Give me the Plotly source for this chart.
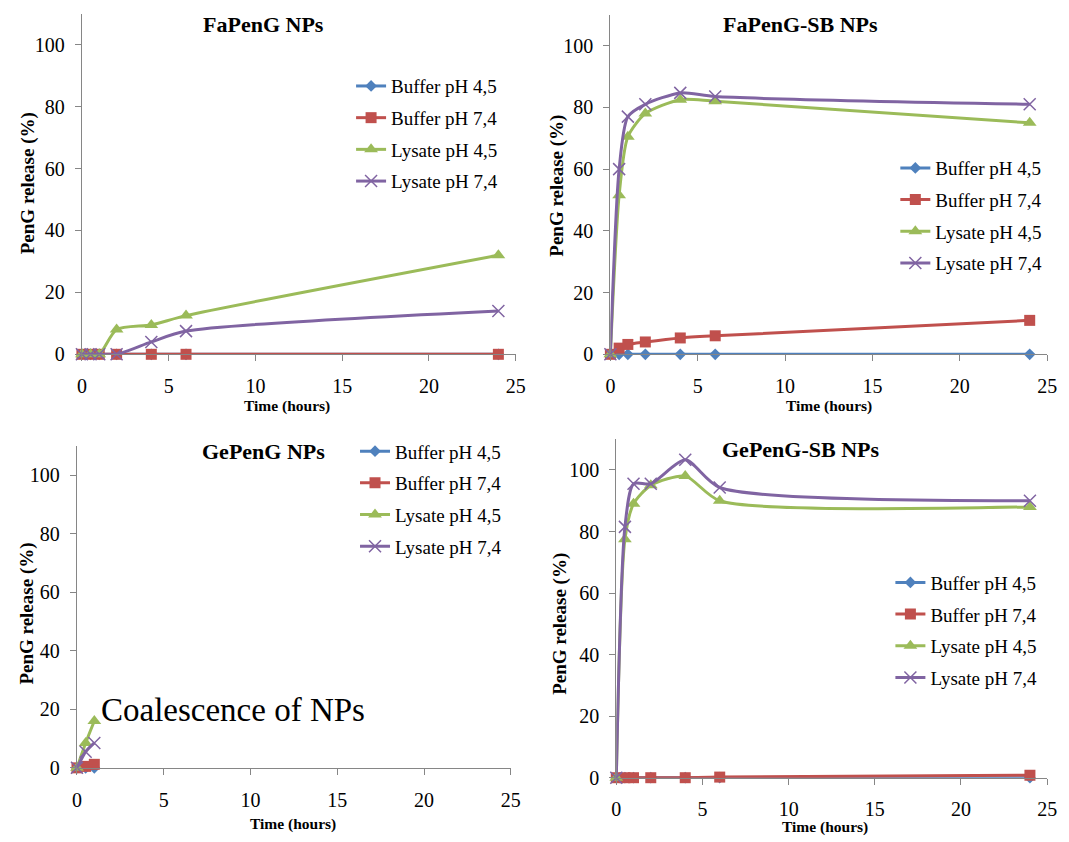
import plotly.graph_objects as go

# ---------------- data ----------------
t_full = [0, 0.5, 1, 2, 4, 6, 24]
t_ge = [0, 0.5, 1]

series_names = ["Buffer pH 4,5", "Buffer pH 7,4", "Lysate pH 4,5", "Lysate pH 7,4"]

fa_buf45 = [0, 0, 0, 0, 0, 0, 0]
fa_buf74 = [0, 0, 0, 0, 0, 0, 0]
fa_lys45 = [0, 0, 0, 8, 9.5, 12.5, 32]
fa_lys74 = [0, 0, 0, 0, 4, 7.5, 14]

fasb_buf45 = [0, 0, 0, 0, 0, 0, 0]
fasb_buf74 = [0, 2, 3.2, 4, 5.3, 6, 11]
fasb_lys45 = [0, 51.5, 70.5, 78, 82.5, 82, 75]
fasb_lys74 = [0, 60, 77, 81, 84.7, 83.5, 81]

ge_buf45 = [0, 0, 0]
ge_buf74 = [0, 0.5, 1.2]
ge_lys45 = [0, 8.5, 16]
ge_lys74 = [0, 5.5, 8.5]

gesb_buf45 = [0, 0, 0, 0, 0, 0, 0]
gesb_buf74 = [0, 0, 0, 0, 0, 0.2, 0.8]
gesb_lys45 = [0, 77.5, 89, 95, 98, 90, 88]
gesb_lys74 = [0, 81.5, 95.5, 95.5, 103.3, 94.3, 90]

panel_titles = ["FaPenG NPs", "FaPenG-SB NPs", "GePenG NPs", "GePenG-SB NPs"]
x_title = "Time (hours)"
y_title = "PenG release (%)"
note_text = "Coalescence of NPs"
x_ticks = [0, 5, 10, 15, 20, 25]
y_ticks = [0, 20, 40, 60, 80, 100]

# ---------------- styling ----------------
W, H = 1069, 842
FONT = "Liberation Serif"
colors = ["#4F81BD", "#C0504D", "#9BBB59", "#8064A2"]
symbols = ["diamond", "square", "triangle-up", "x-thin"]
msizes = [9, 11, 12, 12]

def fx(px):
    return px / W

def fy(py):
    return 1 - py / H

# plot areas in pixels: (left, right, top, bottom)
areas = [(78, 518, 14, 359), (614, 1057, 15, 359), (73, 513, 452, 778), (620, 1057, 445, 788)]
legend_pos = [(351, 68), (903, 151), (355, 438), (898, 571)]
title_pos = [(262, 25), (807, 25), (262, 457), (807, 455)]
ytitle_pos = [(23, 186), (559, 188), (22, 622), (563, 632)]
xtitle_pos = [(286, 411), (836, 411), (292, 835), (832, 838)]
x_standoff = [8, 8, 8, 7]

panels = [
    (t_full, [fa_buf45, fa_buf74, fa_lys45, fa_lys74]),
    (t_full, [fasb_buf45, fasb_buf74, fasb_lys45, fasb_lys74]),
    (t_ge, [ge_buf45, ge_buf74, ge_lys45, ge_lys74]),
    (t_full, [gesb_buf45, gesb_buf74, gesb_lys45, gesb_lys74]),
]

fig = go.Figure()
for p, (tt, sers) in enumerate(panels):
    ax = "" if p == 0 else str(p + 1)
    leg = "legend" if p == 0 else "legend" + str(p + 1)
    for k, (name, vals) in enumerate(zip(series_names, sers)):
        marker = dict(color=colors[k], size=msizes[k], symbol=symbols[k])
        if symbols[k] == "x-thin":
            marker["line"] = dict(color=colors[k], width=1.5)
        fig.add_trace(go.Scatter(
            x=tt, y=vals, name=name, mode="lines+markers",
            line=dict(color=colors[k], width=3, shape="spline", smoothing=0.7),
            marker=marker, xaxis="x" + ax, yaxis="y" + ax,
            legend=leg, legendgroup=f"p{p}s{k}", cliponaxis=False,
        ))

axis_common = dict(showline=True, linecolor="#868686", linewidth=1.3, ticks="outside",
                   ticklen=6, tickcolor="#868686", tickwidth=1.3, showgrid=False,
                   zeroline=False, tickfont=dict(family=FONT, size=20, color="black"))

layout = dict(width=W, height=H, margin=dict(l=0, r=0, t=0, b=0),
              paper_bgcolor="white", plot_bgcolor="white", showlegend=True,
              font=dict(family=FONT, color="black"))
annotations = []
for p, (l, r, t, b) in enumerate(areas):
    ax = "" if p == 0 else str(p + 1)
    layout["xaxis" + ax] = dict(axis_common, domain=[fx(l), fx(r)], range=[0, 25],
                                tickvals=x_ticks, anchor="y" + ax,
                                ticklabelstandoff=x_standoff[p])
    layout["yaxis" + ax] = dict(axis_common, domain=[fy(b), fy(t)], range=[0, 110],
                                tickvals=y_ticks, anchor="x" + ax, ticklabelstandoff=6)
    lx, ly = legend_pos[p]
    layout["legend" if p == 0 else "legend" + str(p + 1)] = dict(
        x=fx(lx), y=fy(ly), xanchor="left", yanchor="top", xref="paper", yref="paper",
        font=dict(family=FONT, size=19, color="black"), bgcolor="rgba(0,0,0,0)",
        tracegroupgap=4, traceorder="grouped")
    tx, ty = title_pos[p]
    annotations.append(dict(text="<b>" + panel_titles[p] + "</b>", x=fx(tx), y=fy(ty),
                            xref="paper", yref="paper", showarrow=False,
                            xanchor="center", yanchor="middle",
                            font=dict(family=FONT, size=22, color="black")))
    yx, yy = ytitle_pos[p]
    annotations.append(dict(text="<b>" + y_title + "</b>", x=fx(yx), y=fy(yy),
                            xref="paper", yref="paper", showarrow=False, textangle=-90,
                            xanchor="center", yanchor="middle",
                            font=dict(family=FONT, size=19, color="black")))
    xx, xy = xtitle_pos[p]
    annotations.append(dict(text="<b>" + x_title + "</b>", x=fx(xx), y=fy(xy),
                            xref="paper", yref="paper", showarrow=False,
                            xanchor="center", yanchor="middle",
                            font=dict(family=FONT, size=15.5, color="black")))

annotations.append(dict(text=note_text, x=fx(95), y=fy(719), xref="paper", yref="paper",
                        xanchor="left", yanchor="middle", showarrow=False,
                        font=dict(family=FONT, size=33, color="black")))
layout["annotations"] = annotations
fig.update_layout(**layout)
fig.write_html("out.html", config={"displayModeBar": False},
               post_script="document.body.style.margin='0';document.body.style.padding='0';")
